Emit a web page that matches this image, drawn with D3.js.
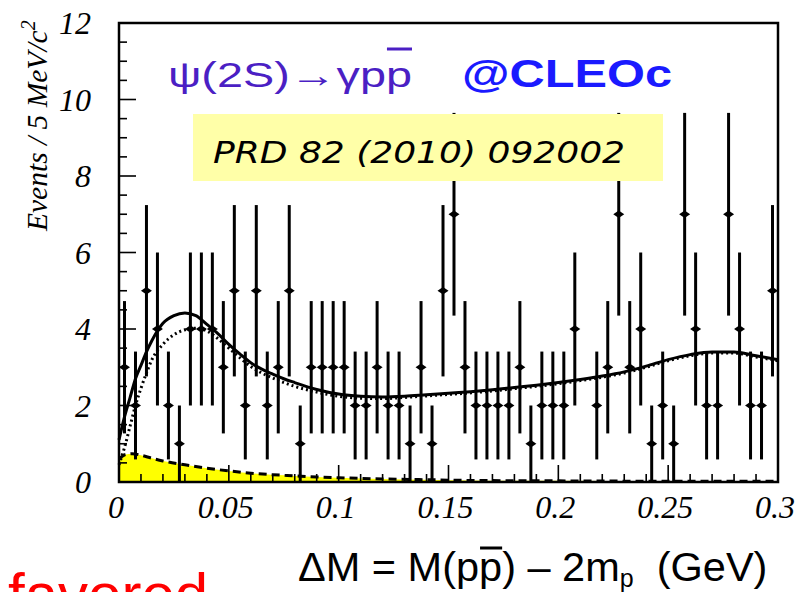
<!DOCTYPE html>
<html><head><meta charset="utf-8">
<script src="https://cdn.jsdelivr.net/npm/d3@7"></script>
<style>html,body{margin:0;padding:0;background:#fff;overflow:hidden}</style>
</head><body>
<svg id="c" width="805" height="592"></svg>
<script>
// ---- data ----
const binCenters=[0.0025,0.0075,0.0125,0.0175,0.0225,0.0275,0.0325,0.0375,0.0425,0.0475,
0.0525,0.0575,0.0625,0.0675,0.0725,0.0775,0.0825,0.0875,0.0925,0.0975,
0.1025,0.1075,0.1125,0.1175,0.1225,0.1275,0.1325,0.1375,0.1425,0.1475,
0.1525,0.1575,0.1625,0.1675,0.1725,0.1775,0.1825,0.1875,0.1925,0.1975,
0.2025,0.2075,0.2125,0.2175,0.2225,0.2275,0.2325,0.2375,0.2425,0.2475,
0.2525,0.2575,0.2625,0.2675,0.2725,0.2775,0.2825,0.2875,0.2925,0.2975];
const counts=[3,2,5,4,2,1,4,4,4,3, 5,2,5,2,3,5,1,3,3,3, 3,2,2,3,2,2,1,3,1,5,
7,3,2,2,2,2,3,1,2,2, 2,4,0,2,3,7,3,4,1,2, 1,7,4,2,2,7,4,2,2,5];
const errors=[1.73,1.41,2.24,2,1.41,1,2,2,2,1.73, 2.24,1.41,2.24,1.41,1.73,2.24,1,1.73,1.73,1.73,
1.73,1.41,1.41,1.73,1.41,1.41,1,1.73,1,2.24, 2.65,1.73,1.41,1.41,1.41,1.41,1.73,1,1.41,1.41,
1.41,2,0,1.41,1.73,2.65,1.73,2,1,1.41, 1,2.65,2,1.41,1.41,2.65,2,1.41,1.41,2.24];

const curveX=[0,0.0025,0.005,0.0075,0.01,0.0125,0.015,0.02,0.025,0.03,0.035,0.04,0.045,0.05,0.055,0.06,0.065,0.07,0.075,0.08,0.09,0.1,0.11,0.12,0.13,0.14,0.15,0.16,0.17,0.18,0.19,0.2,0.21,0.22,0.23,0.24,0.25,0.26,0.27,0.28,0.29,0.3];
const fitTotal=[1.1,1.7,2.2,2.7,3.05,3.4,3.7,4.15,4.35,4.42,4.35,4.12,3.88,3.6,3.35,3.12,2.95,2.82,2.7,2.6,2.42,2.3,2.24,2.22,2.24,2.28,2.32,2.36,2.41,2.47,2.53,2.6,2.68,2.77,2.88,3.03,3.2,3.33,3.4,3.4,3.3,3.2];
const fitDotted=[0.45,0.9,1.45,2.0,2.45,2.85,3.2,3.6,3.85,3.98,4.02,3.95,3.75,3.5,3.25,3.02,2.85,2.72,2.6,2.5,2.35,2.24,2.19,2.18,2.21,2.25,2.29,2.33,2.38,2.44,2.5,2.57,2.65,2.74,2.85,3.0,3.17,3.3,3.37,3.37,3.27,3.17];
const bkgX=[0,0.003,0.006,0.01,0.015,0.02,0.03,0.04,0.05,0.06,0.07,0.08,0.09,0.1,0.12,0.14,0.16,0.2,0.25,0.3];
const bkgVal=[0.6,0.72,0.74,0.7,0.62,0.55,0.45,0.36,0.29,0.23,0.19,0.16,0.13,0.11,0.08,0.06,0.04,0.03,0.02,0.02];

const xTicks=[0,0.05,0.1,0.15,0.2,0.25,0.3];
const xTickLabels=["0","0.05","0.1","0.15","0.2","0.25","0.3"];
const yTicks=[0,2,4,6,8,10,12];
const yTickLabels=["0","2","4","6","8","10","12"];

// ---- drawing ----
const svg=d3.select("#c");
const x=d3.scaleLinear().domain([0,0.3]).range([119,778]);
const y=d3.scaleLinear().domain([0,12]).range([482,23]);

// yellow background fill
const bkg=bkgX.map((v,i)=>({x:v,y:bkgVal[i]}));
svg.append("path").datum(bkg)
  .attr("d",d3.area().x(d=>x(d.x)).y0(y(0)).y1(d=>y(d.y)).curve(d3.curveMonotoneX))
  .attr("fill","#ffff00");

// axes ticks (inward)
const g=svg.append("g").attr("stroke","#000");
x.ticks(30).forEach(t=>{
  const major=xTicks.some(m=>Math.abs(m-t)<1e-9);
  g.append("line").attr("x1",x(t)).attr("x2",x(t)).attr("y1",y(0)).attr("y2",y(0)-(major?17:8)).attr("stroke-width",1.6);
});
y.ticks(24).forEach(t=>{
  const major=yTicks.some(m=>Math.abs(m-t)<1e-9);
  g.append("line").attr("y1",y(t)).attr("y2",y(t)).attr("x1",x(0)).attr("x2",x(0)+(major?17:8)).attr("stroke-width",1.6);
});

// curves
const totalPts=curveX.map((v,i)=>({x:v,y:fitTotal[i]}));
const dotPts=curveX.map((v,i)=>({x:v,y:fitDotted[i]}));
const line=d3.line().x(d=>x(d.x)).y(d=>y(d.y)).curve(d3.curveMonotoneX);
svg.append("path").datum(bkg).attr("d",line).attr("fill","none").attr("stroke","#000").attr("stroke-width",3).attr("stroke-dasharray","8,5");
svg.append("path").datum(dotPts).attr("d",line).attr("fill","none").attr("stroke","#000").attr("stroke-width",3).attr("stroke-dasharray","2,3");
svg.append("path").datum(totalPts).attr("d",line).attr("fill","none").attr("stroke","#000").attr("stroke-width",3);

// data points
const pts=binCenters.map((c,i)=>({x:c,n:counts[i],e:errors[i]})).filter(d=>d.n>0);
const pg=svg.append("g");
pg.selectAll("line.eb").data(pts).join("line")
  .attr("x1",d=>x(d.x)).attr("x2",d=>x(d.x))
  .attr("y1",d=>y(Math.max(0,d.n-d.e))).attr("y2",d=>y(d.n+d.e))
  .attr("stroke","#000").attr("stroke-width",3);
pg.selectAll("path.mk").data(pts).join("path")
  .attr("d",d=>{const cx=x(d.x),cy=y(d.n);return `M${cx-5.5},${cy}L${cx},${cy-3.8}L${cx+5.5},${cy}L${cx},${cy+3.8}Z`;})
  .attr("fill","#000");

// frame
svg.append("rect").attr("x",x(0)).attr("y",y(12)).attr("width",x(0.3)-x(0)).attr("height",y(0)-y(12))
  .attr("fill","none").attr("stroke","#000").attr("stroke-width",2.5);

// tick labels
svg.append("g").selectAll("text").data(xTicks).join("text")
  .attr("x",d=>x(d)-3).attr("y",518).attr("text-anchor","middle")
  .attr("font-family","Liberation Serif").attr("font-style","italic").attr("font-size",32)
  .text((d,i)=>xTickLabels[i]);
svg.append("g").selectAll("text").data(yTicks).join("text")
  .attr("x",91).attr("y",d=>y(d)+11).attr("text-anchor","end")
  .attr("font-family","Liberation Serif").attr("font-style","italic").attr("font-size",32)
  .text((d,i)=>yTickLabels[i]);

// y axis title
const yt=svg.append("text").attr("transform","translate(47,231) rotate(-90)")
  .attr("font-family","Liberation Serif").attr("font-style","italic").attr("font-size",29.5);
yt.append("tspan").text("Events / 5 MeV/c");
yt.append("tspan").attr("dy",-12).attr("font-size",20).text("2");

// reference box
svg.append("rect").attr("x",193).attr("y",114).attr("width",470).attr("height",67).attr("fill","#ffffa8");
svg.append("text").attr("x",213).attr("y",163).attr("font-family","DejaVu Sans").attr("font-style","italic")
  .attr("font-size",30).attr("textLength",412).attr("lengthAdjust","spacingAndGlyphs").text("PRD 82 (2010) 092002");

// process label
const pt=svg.append("text").attr("x",168).attr("y",87).attr("font-family","Liberation Sans")
  .attr("font-size",35).attr("fill","#4b1fc4").attr("textLength",244).attr("lengthAdjust","spacingAndGlyphs")
  .text("ψ(2S)→γpp");
{
  const n=pt.node(); const k=n.getNumberOfChars()-1;
  const s=n.getStartPositionOfChar(k).x, e=n.getEndPositionOfChar(k).x;
  svg.append("line").attr("x1",s+1).attr("x2",e).attr("y1",49).attr("y2",49).attr("stroke","#4b1fc4").attr("stroke-width",3);
}
svg.append("text").attr("x",462).attr("y",87).attr("font-family","Liberation Sans").attr("font-weight","bold")
  .attr("font-size",38).attr("fill","#1a1aff").attr("textLength",210).attr("lengthAdjust","spacingAndGlyphs").text("@CLEOc");

// x axis title
const xt=svg.append("text").attr("x",298).attr("y",581).attr("font-family","Liberation Sans").attr("font-size",41.5).attr("fill","#000");
xt.append("tspan").text("ΔM = M(pp");
xt.append("tspan").text(")");
xt.append("tspan").text(" – 2m");
xt.append("tspan").attr("dy",6).attr("font-size",25).text("p");
xt.append("tspan").attr("dy",-6).text("\u00a0\u00a0(GeV)");
{
  const n=xt.node(); const k=8; // second p in "ΔM = M(pp"
  const s=n.getStartPositionOfChar(k).x, e=n.getEndPositionOfChar(k).x;
  svg.append("line").attr("x1",s+1).attr("x2",e).attr("y1",548).attr("y2",548).attr("stroke","#000").attr("stroke-width",3);
}

// clipped red slide text
svg.append("text").attr("x",8).attr("y",615).attr("font-family","Liberation Sans").attr("font-size",60).attr("fill","#ff0000").text("favored");
svg.append("text").attr("x",162).attr("y",-10).attr("font-family","Liberation Sans").attr("font-size",40).attr("fill","#ff0000").text("(a)");
</script>
</body></html>
